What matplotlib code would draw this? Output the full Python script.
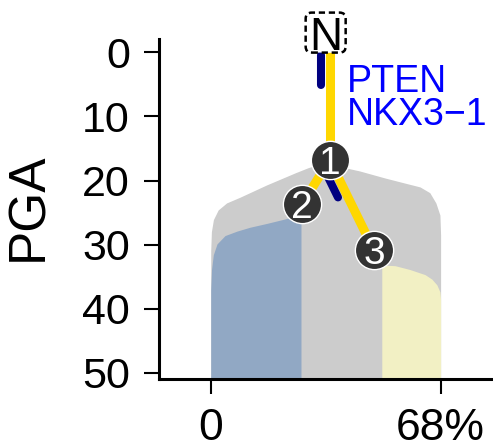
import matplotlib
matplotlib.use("Agg")
import matplotlib.pyplot as plt
import matplotlib.transforms as mtransforms
import numpy as np
from matplotlib.patches import FancyBboxPatch

plt.rcParams["font.family"] = ["Liberation Sans", "DejaVu Sans"]

# clone outlines (x in %, y in PGA)
gray_x = [0, 0.2, 0.8, 2.2, 4.7, 8.7, 16.5, 25, 28.8, 34, 39.7, 44, 51.5, 57.4, 61.9, 64.8, 66.6, 67.8, 68]
gray_top = [31, 28, 26.1, 24.6, 23.5, 22.6, 20.7, 18.8, 18, 17.2, 18, 18.5, 19.6, 20.4, 21, 21.9, 23.5, 25.4, 28.5]
blue_x = [0, 0.24, 0.77, 1.86, 4.23, 7.78, 11.6, 16.6, 22, 26.7]
blue_top = [37.1, 33.9, 31.6, 29.9, 28.6, 27.9, 27.3, 26.7, 26.0, 25.3]
yellow_x = [50.6, 54.5, 58.9, 63.4, 65.4, 66.9, 67.8, 68]
yellow_top = [33.2, 33.3, 33.9, 34.7, 35.4, 36.3, 37.4, 38.6]

# phylogeny
node_names = ["N", "1", "2", "3"]
node_x = [35.2, 35.2, 27.1, 48.3]
node_y = [0, 16.8, 23.6, 30.9]
edge_parent = ["N", "1", "1"]
edge_child = ["1", "2", "3"]

# driver bars: edge index and fraction of the edge they cover
driver_edge = [0, 2]
driver_start = [0.02, 0.0]
driver_end = [0.30, 0.37]
trunk_genes = ["PTEN", "NKX3\u22121"]

pga_ticks = [0, 10, 20, 30, 40, 50]
x_ticks = [0, 68]
x_ticklabels = ["0", "68%"]

y_bottom = 51

fig = plt.figure(figsize=(4.93, 4.48), dpi=100)
ax = fig.add_axes([159 / 493, 69 / 448, 334 / 493, 340 / 448])
ax.set_xlim(-15.3, 83.5)
ax.set_ylim(y_bottom, -2.1)

ax.fill_between(gray_x, gray_top, y_bottom, color="#cccccc", lw=0, zorder=1)
ax.fill_between(blue_x, blue_top, y_bottom, color="#91a8c4", lw=0, zorder=2)
ax.fill_between(yellow_x, yellow_top, y_bottom, color="#f2f0c4", lw=0, zorder=2)

pos = {n: (x, y) for n, x, y in zip(node_names, node_x, node_y)}
for p, c in zip(edge_parent, edge_child):
    ax.plot([pos[p][0], pos[c][0]], [pos[p][1], pos[c][1]], color="#ffd700",
            lw=6.5, solid_capstyle="butt", zorder=3)

# driver bars sit beside the edge, offset to its left
for ei, t0, t1 in zip(driver_edge, driver_start, driver_end):
    a = np.array(pos[edge_parent[ei]])
    b = np.array(pos[edge_child[ei]])
    da, db = ax.transData.transform(a), ax.transData.transform(b)
    v = (db - da) / np.hypot(*(db - da))
    tr = mtransforms.offset_copy(ax.transData, fig=fig, x=v[1] * 6.5, y=-v[0] * 6.5, units="points")
    p0 = a + t0 * (b - a)
    p1 = a + t1 * (b - a)
    ax.plot([p0[0], p1[0]], [p0[1], p1[1]], color="#000080", lw=5.8,
            solid_capstyle="round", transform=tr, zorder=4)

for i, gene in enumerate(trunk_genes):
    ax.text(node_x[0] + 5.1, 6.1 + 5.2 * i, gene, color="#0000ff", fontsize=27,
            ha="left", va="baseline", zorder=5)

ax.scatter(node_x[1:], node_y[1:], s=760, color="#333333", edgecolor="white",
           linewidth=1, zorder=6)
for n, x, y in zip(node_names[1:], node_x[1:], node_y[1:]):
    ax.text(x, y, n, color="white", fontsize=28, ha="center", va="center_baseline", zorder=7)

# normal node: dashed box above the trunk
n_x, n_y = node_x[0] - 1.2, node_y[0] - 3.1
box_tr = fig.dpi_scale_trans + mtransforms.ScaledTranslation(n_x, n_y, ax.transData)
ax.add_patch(FancyBboxPatch((-0.2, -0.2), 0.4, 0.4, boxstyle="round,pad=0,rounding_size=0.06",
                            fc="white", ec="black", lw=1.8, ls=(0, (2.5, 1.5)),
                            transform=box_tr, clip_on=False, zorder=5))
ax.text(n_x, n_y, node_names[0], fontsize=33, ha="center", va="center_baseline",
        clip_on=False, zorder=6)

for side in ["top", "right"]:
    ax.spines[side].set_visible(False)
for side in ["left", "bottom"]:
    ax.spines[side].set_linewidth(2.2)

ax.set_yticks(pga_ticks)
ax.set_xticks(x_ticks)
ax.set_xticklabels(x_ticklabels)
ax.tick_params(axis="both", length=11, width=1.5, pad=10)
ax.tick_params(axis="y", labelsize=31)
ax.tick_params(axis="x", labelsize=32)

fig.text(28.5 / 493, (448 - 207) / 448, "PGA", fontsize=37, rotation=90,
         ha="center", va="center")

fig.savefig("out.png", dpi=100)
